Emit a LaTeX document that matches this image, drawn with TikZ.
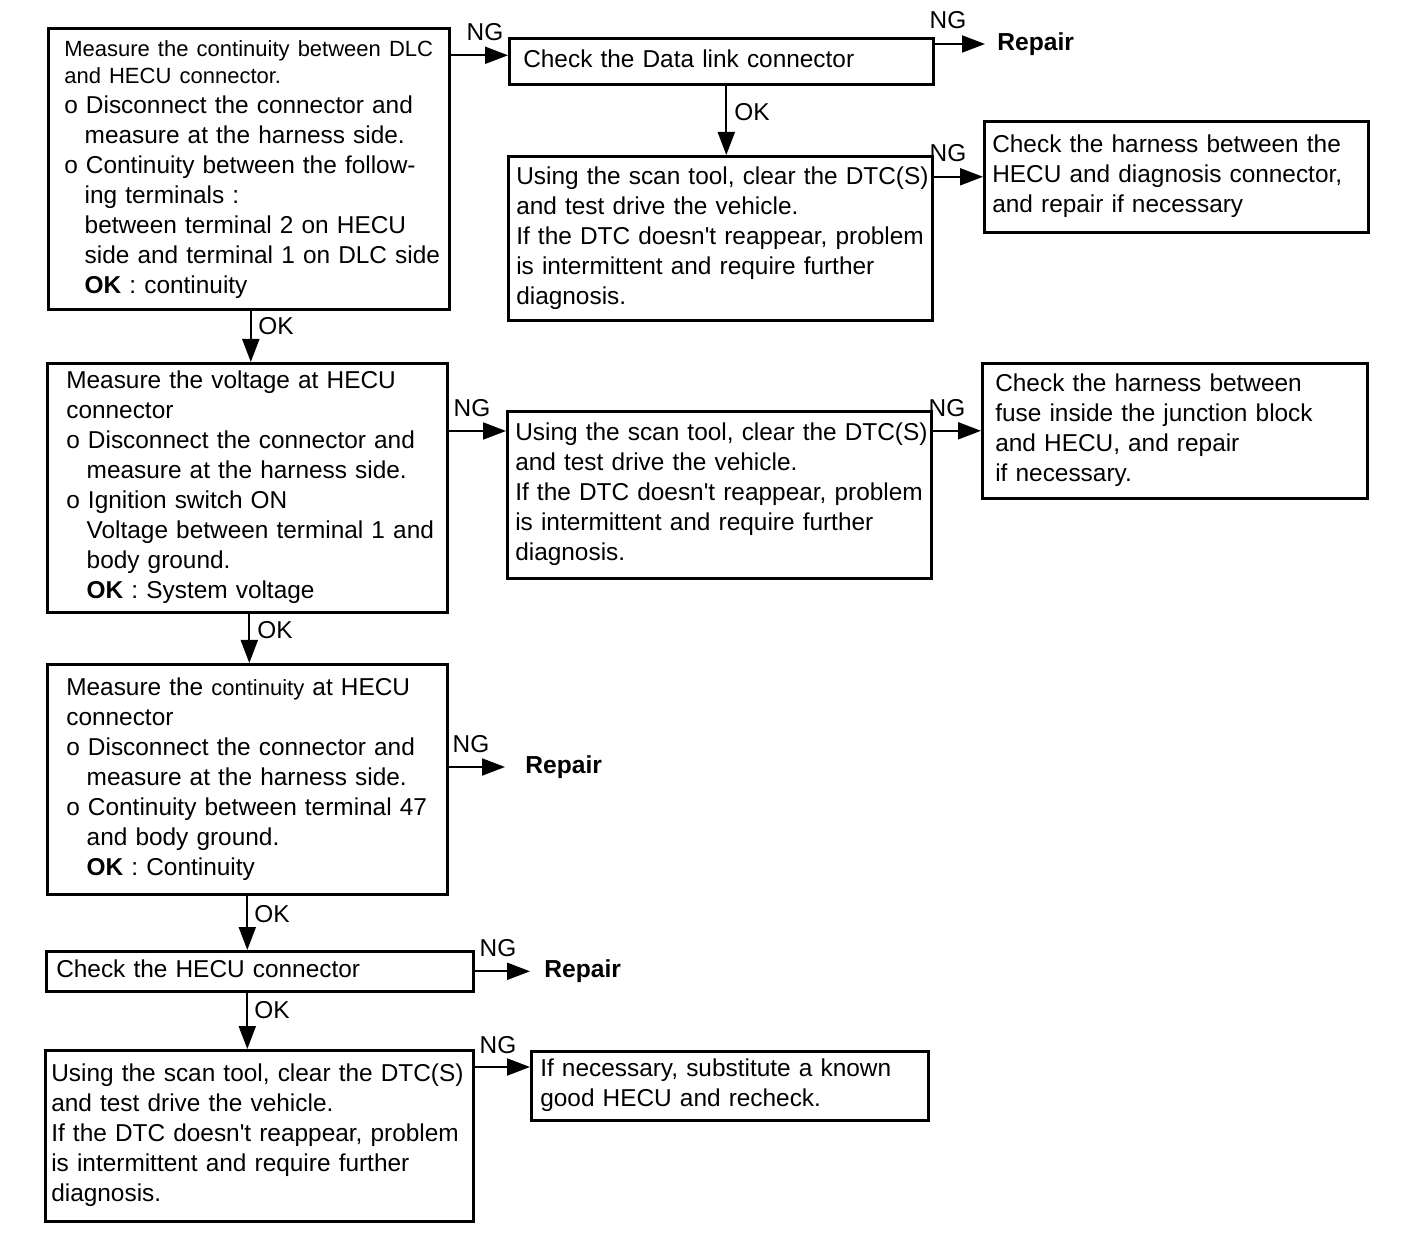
\documentclass[tikz,border=0pt]{standalone}
\usepackage{fontspec}
\setmainfont{Liberation Sans}
\usetikzlibrary{arrows.meta}
\newcommand\myind{\hspace*{10.2pt}}
\newcommand\btext[2]{\hspace*{#1}\begin{tabular}{@{}l@{}}#2\end{tabular}}
\newcommand\smalltxt{\fontsize{11}{13.5}\selectfont}
\newcommand\apo{\textquotesingle}
\tikzset{
  box/.style={draw, line width=1.3pt, rectangle, anchor=north west, inner sep=0pt, text width=#1},
  arr/.style={line width=1pt, -{Triangle[length=11.5pt,width=8.5pt]}},
  lab/.style={inner sep=0pt},
  rep/.style={anchor=west, inner ysep=0pt, font=\fontsize{12.3}{15}\selectfont\bfseries}
}
\begin{document}
\begin{tikzpicture}[x=0.5pt, y=-0.5pt, font=\fontsize{12.2}{15}\selectfont]
\fill[white] (0,0) rectangle (1408,1234);
\useasboundingbox (0,0) rectangle (1408,1234);

% boxes
\node[box=200.5pt, minimum height=140.5pt] (A) at (47,27) {\btext{8pt}{%
{\smalltxt Measure the continuity between DLC}\\[-1.5pt]
{\smalltxt and HECU connector.}\\
o Disconnect the connector and\\
\myind measure at the harness side.\\
o Continuity between the follow-\\
\myind ing terminals :\\
\myind between terminal 2 on HECU\\
\myind side and terminal 1 on DLC side\\
\myind \textbf{OK} : continuity}};

\node[box=212pt, minimum height=23pt] (B) at (508,37) {\btext{7pt}{Check the Data link connector}};

\node[box=212pt, minimum height=82pt] (C) at (507,155) {\btext{4pt}{%
Using the scan tool, clear the DTC(S)\\
and test drive the vehicle.\\
If the DTC doesn\apo t reappear, problem\\
is intermittent and require further\\
diagnosis.}};

\node[box=192pt, minimum height=55.5pt] (D) at (983,120) {\btext{4pt}{%
Check the harness between the\\
HECU and diagnosis connector,\\
and repair if necessary}};

\node[box=200pt, minimum height=124.5pt] (E) at (46,362) {\btext{9.5pt}{%
Measure the voltage at HECU\\
connector\\
o Disconnect the connector and\\
\myind measure at the harness side.\\
o Ignition switch ON\\
\myind Voltage between terminal 1 and\\
\myind body ground.\\
\myind \textbf{OK} : System voltage}};

\node[box=212pt, minimum height=83.5pt] (F) at (506,410) {\btext{4pt}{%
Using the scan tool, clear the DTC(S)\\
and test drive the vehicle.\\
If the DTC doesn\apo t reappear, problem\\
is intermittent and require further\\
diagnosis.}};

\node[box=192.5pt, minimum height=67.5pt] (G) at (981,362) {\btext{6.5pt}{%
Check the harness between\\
fuse inside the junction block\\
and HECU, and repair\\
if necessary.}};

\node[box=200pt, minimum height=115pt] (H) at (46,663) {\btext{9.5pt}{%
Measure the {\fontsize{11}{15}\selectfont continuity} at HECU\\
connector\\
o Disconnect the connector and\\
\myind measure at the harness side.\\
o Continuity between terminal 47\\
\myind and body ground.\\
\myind \textbf{OK} : Continuity}};

\node[box=213.5pt, minimum height=20pt] (I) at (45,950) {\btext{5pt}{Check the HECU connector}};

\node[box=214pt, minimum height=85.5pt] (J) at (44,1049) {\btext{3pt}{%
Using the scan tool, clear the DTC(S)\\
and test drive the vehicle.\\
If the DTC doesn\apo t reappear, problem\\
is intermittent and require further\\
diagnosis.}};

\node[box=198.5pt, minimum height=34.5pt] (K) at (530,1050) {\btext{4.5pt}{%
If necessary, substitute a known\\
good HECU and recheck.}};

% repair nodes
\node[rep, inner xsep=6pt] (R1) at (985,44) {Repair};
\node[rep, inner xsep=10pt] (R2) at (505,767) {Repair};
\node[rep, inner xsep=7pt] (R3) at (530,971) {Repair};

% labels
\node[lab] (ng1) at (485,32) {NG};
\node[lab] (ng2) at (948,20) {NG};
\node[lab] (ok1) at (752,112) {OK};
\node[lab] (ng3) at (948,153) {NG};
\node[lab] (ok2) at (276,326) {OK};
\node[lab] (ng4) at (472,408) {NG};
\node[lab] (ng5) at (947,408) {NG};
\node[lab] (ok3) at (275,630) {OK};
\node[lab] (ng6) at (471,744) {NG};
\node[lab] (ok4) at (272,914) {OK};
\node[lab] (ng7) at (498,948) {NG};
\node[lab] (ok5) at (272,1010) {OK};
\node[lab] (ng8) at (498,1045) {NG};

% connectors
\coordinate (Bin) at ([yshift=3pt]B.west);
\draw[arr] (Bin -| A.east) -- (Bin);
\draw[arr] (B.east |- R1.west) -- (R1.west);
\draw[arr] ([xshift=2.5pt]B.south) -- ([xshift=2.5pt]B.south |- C.north);
\draw[arr] (C.east |- D.west) -- (D.west);
\draw[arr] ([xshift=1pt]A.south) -- ([xshift=1pt]A.south |- E.north);
\coordinate (Fin) at ([yshift=-10.5pt]F.north west);
\draw[arr] (E.east |- Fin) -- (Fin);
\draw[arr] (F.east |- G.west) -- (G.west);
\draw[arr] ([xshift=1pt]E.south) -- ([xshift=1pt]E.south |- H.north);
\draw[arr] (H.east |- R2.west) -- (R2.west);
\draw[arr] (H.south) -- (H.south |- I.north);
\draw[arr] (I.east) -- (I.east -| R3.west);
\coordinate (Iout) at ([xshift=-6.25pt]I.south);
\draw[arr] (Iout) -- (Iout |- J.north);
\coordinate (Jout) at ([yshift=-9pt]J.north east);
\draw[arr] (Jout) -- (Jout -| K.west);
\end{tikzpicture}
\end{document}
